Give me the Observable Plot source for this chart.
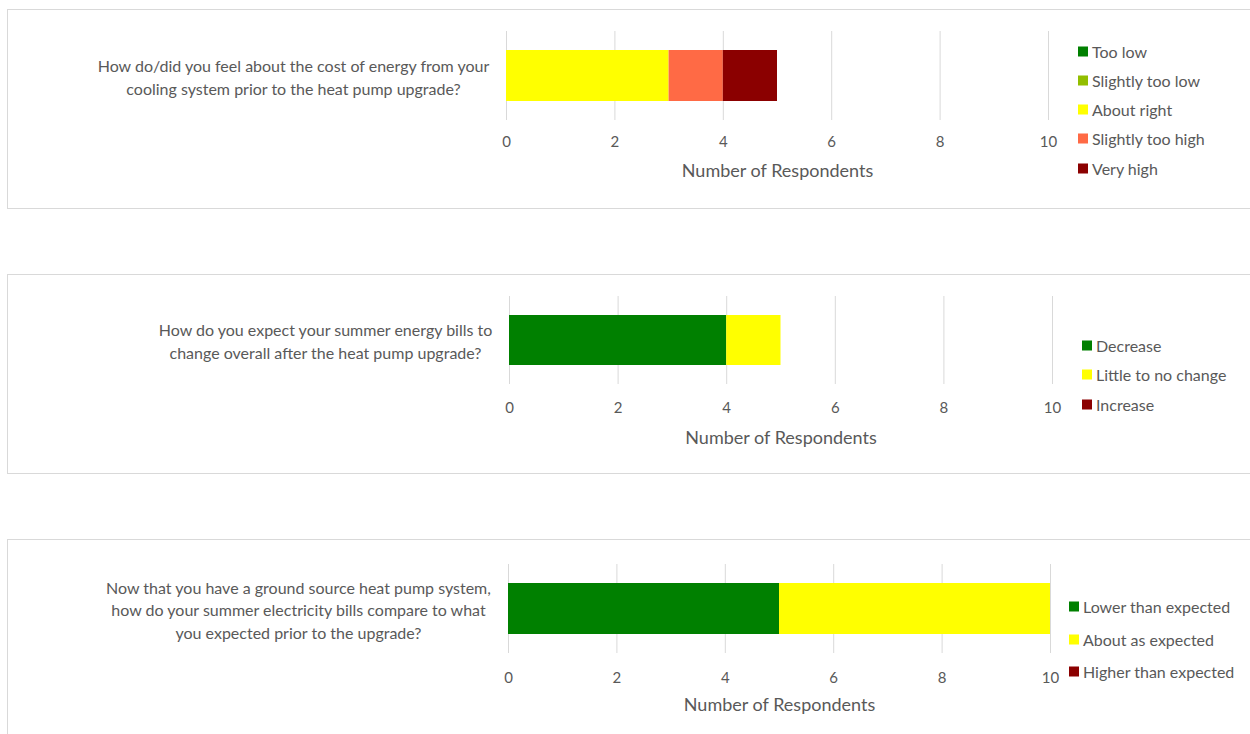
<!DOCTYPE html>
<html><head><meta charset="utf-8">
<script src="https://cdn.jsdelivr.net/npm/d3@7"></script>
<script src="https://cdn.jsdelivr.net/npm/@observablehq/plot@0.6"></script>
<style>
body{margin:0;background:#fff;font-family:Lato,sans-serif;overflow:hidden;}
#root{position:relative;width:1250px;height:734px;overflow:hidden;}
.panel{position:absolute;left:7px;width:1260px;border:1px solid #d9d9d9;background:#fff;box-sizing:border-box;}
.panel svg{position:absolute;left:0;top:0;}
.legend{position:absolute;color:#595959;font-size:16px;font-family:Lato,sans-serif;}
.legend .row{position:absolute;left:0;display:flex;align-items:center;white-space:nowrap;transform:translateY(-50%);}
.legend .sw{width:10px;height:10px;margin-right:4px;flex:none;}
</style></head><body><div id="root"></div>
<script>
// ---- data ----
const xTicks = [0, 2, 4, 6, 8, 10];
const axisTitle = "Number of Respondents";

const q1Question = "How do/did you feel about the cost of energy from your\ncooling system prior to the heat pump upgrade?";
const q1Categories = ["Too low", "Slightly too low", "About right", "Slightly too high", "Very high"];
const q1Values = [0, 0, 3, 1, 1];
const q1Colors = ["#008000", "#92BE00", "#FFFF00", "#FF6A45", "#8B0000"];

const q2Question = "How do you expect your summer energy bills to\nchange overall after the heat pump upgrade?";
const q2Categories = ["Decrease", "Little to no change", "Increase"];
const q2Values = [4, 1, 0];
const q2Colors = ["#008000", "#FFFF00", "#8B0000"];

const q3Question = "Now that you have a ground source heat pump system,\nhow do your summer electricity bills compare to what\nyou expected prior to the upgrade?";
const q3Categories = ["Lower than expected", "About as expected", "Higher than expected"];
const q3Values = [5, 5, 0];
const q3Colors = ["#008000", "#FFFF00", "#8B0000"];

// ---- layout/style ----
const panels = [
  {question: q1Question, cats: q1Categories, vals: q1Values, colors: q1Colors,
   top: 9, height: 200, mL: 498, mR: 202, mT: 21, mB: 89, labelDx: -213, tickPad: 16, titleDy: 56,
   legLeft: 1070, legRows: [41, 70, 99, 128, 158]},
  {question: q2Question, cats: q2Categories, vals: q2Values, colors: q2Colors,
   top: 274, height: 200, mL: 501, mR: 198, mT: 21, mB: 90, labelDx: -184, tickPad: 18, titleDy: 59,
   legLeft: 1074, legRows: [70, 99, 129]},
  {question: q3Question, cats: q3Categories, vals: q3Values, colors: q3Colors,
   top: 539, height: 220, mL: 500, mR: 200, mT: 24, mB: 106, labelDx: -210, tickPad: 19, titleDy: 57,
   legLeft: 1061, legRows: [66, 99, 131]}
];

const root = document.getElementById("root");
const textColor = "#595959";

panels.forEach(p => {
  const div = document.createElement("div");
  div.className = "panel";
  div.style.top = p.top + "px";
  div.style.height = p.height + "px";
  root.appendChild(div);

  const rows = p.cats.map((c, i) => ({question: p.question, category: c, value: p.vals[i]}));
  const W = 1242, H = p.height - 1;

  const chart = Plot.plot({
    width: W, height: H,
    marginLeft: p.mL, marginRight: p.mR, marginTop: p.mT, marginBottom: p.mB,
    style: {fontFamily: "Lato, sans-serif", color: textColor, background: "transparent", overflow: "visible"},
    x: {domain: [0, 10], ticks: xTicks},
    y: {type: "band", domain: [p.question], padding: 0, axis: null},
    color: {domain: p.cats, range: p.colors},
    marks: [
      Plot.gridX(xTicks, {stroke: "#d9d9d9", strokeOpacity: 1, strokeWidth: 1}),
      Plot.barX(rows, Plot.stackX({x: "value", y: "question", fill: "category", insetTop: 19, insetBottom: 19})),
      Plot.axisX(xTicks, {tickSize: 0, tickPadding: p.tickPad, fontSize: 15, fill: textColor, label: null}),
      Plot.text([p.question], {y: d => d, text: d => d, frameAnchor: "left", textAnchor: "middle",
        dx: p.labelDx, fontSize: 16, fill: textColor, lineHeight: 1.42}),
      Plot.text([axisTitle], {text: d => d, frameAnchor: "bottom", dy: p.titleDy, fontSize: 18, fill: textColor})
    ]
  });
  div.appendChild(chart);

  const leg = document.createElement("div");
  leg.className = "legend";
  leg.style.left = p.legLeft + "px";
  leg.style.top = "0px";
  p.cats.forEach((c, i) => {
    const r = document.createElement("div");
    r.className = "row";
    r.style.top = p.legRows[i] + "px";
    const sw = document.createElement("span");
    sw.className = "sw";
    sw.style.background = p.colors[i];
    const t = document.createElement("span");
    t.textContent = c;
    r.appendChild(sw); r.appendChild(t);
    leg.appendChild(r);
  });
  div.appendChild(leg);
});
</script></body></html>
